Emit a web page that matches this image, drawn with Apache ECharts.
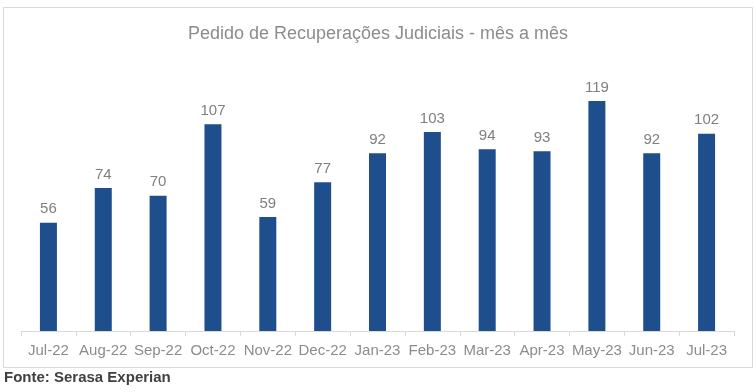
<!DOCTYPE html>
<html>
<head>
<meta charset="utf-8">
<script src="https://cdn.jsdelivr.net/npm/echarts@6/dist/echarts.min.js"></script>
<style>
html,body{margin:0;padding:0;background:#fff;}
#c{width:756px;height:392px;}
</style>
</head>
<body>
<div id="c"></div>
<script>
var categories = ["Jul-22","Aug-22","Sep-22","Oct-22","Nov-22","Dec-22","Jan-23","Feb-23","Mar-23","Apr-23","May-23","Jun-23","Jul-23"];
var values = [56,74,70,107,59,77,92,103,94,93,119,92,102];
var titleText = "Pedido de Recuperações Judiciais - mês a mês";
var sourceText = "Fonte: Serasa Experian";

var chart = echarts.init(document.getElementById('c'), null, {renderer:'canvas'});
chart.setOption({
  animation:false,
  backgroundColor:'#ffffff',
  title:{
    text:titleText, left:'center', top:20,
    textStyle:{fontFamily:'Liberation Sans, Arial', fontSize:18, fontWeight:'normal', color:'#8c8c8c'}
  },
  graphic:[
    {type:'rect', shape:{x:3.5,y:7.5,width:749,height:360}, style:{fill:'none', stroke:'#d9d9d9', lineWidth:1}, z:-1},
    {type:'text', left:4, top:370, style:{text:sourceText, fontFamily:'Liberation Sans, Arial', fontSize:15, fontWeight:'bold', fill:'#404040'}}
  ],
  grid:{left:21, right:22, top:60.4, bottom:61, containLabel:false},
  xAxis:{
    type:'category', data:categories,
    axisLine:{lineStyle:{color:'#d9d9d9', width:1}},
    axisTick:{show:true, length:5, alignWithLabel:false, lineStyle:{color:'#d9d9d9'}},
    axisLabel:{margin:12, fontFamily:'Liberation Sans, Arial', fontSize:15, color:'#8c8c8c', interval:0}
  },
  yAxis:{
    type:'value', min:0, max:140, show:false, splitLine:{show:false}
  },
  series:[{
    type:'bar', data:values, barWidth:17,
    itemStyle:{color:'#1f4e8c'},
    label:{show:true, position:'top', distance:6, fontFamily:'Liberation Sans, Arial', fontSize:15, color:'#7f7f7f'}
  }]
});
</script>
</body>
</html>
